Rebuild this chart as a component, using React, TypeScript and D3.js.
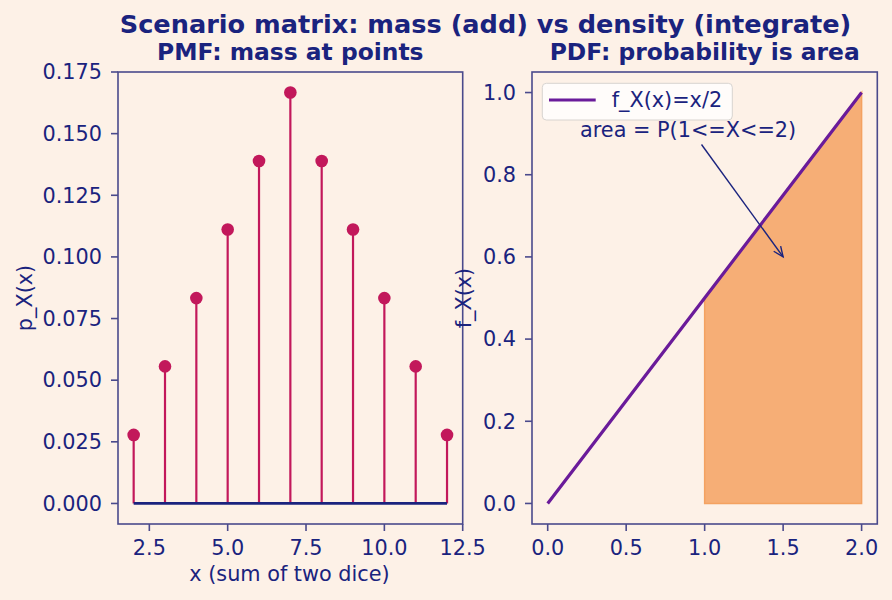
import React from "react";
import * as d3 from "d3";

// PMF of the sum of two dice
const diceSums = [2, 3, 4, 5, 6, 7, 8, 9, 10, 11, 12];
const pmfValues = [0.0278, 0.0556, 0.0833, 0.1111, 0.1389, 0.1667, 0.1389, 0.1111, 0.0833, 0.0556, 0.0278];
const pmfYTicks = [0, 0.025, 0.05, 0.075, 0.1, 0.125, 0.15, 0.175];
const pmfXTicks = [2.5, 5.0, 7.5, 10.0, 12.5];

// PDF f_X(x) = x/2 on [0, 2]
const pdfX = [0, 0.5, 1.0, 1.5, 2.0];
const pdfY = [0, 0.25, 0.5, 0.75, 1.0];
const shadeX = [1.0, 1.5, 2.0];
const shadeY = [0.5, 0.75, 1.0];
const pdfXTicks = [0, 0.5, 1.0, 1.5, 2.0];
const pdfYTicks = [0, 0.2, 0.4, 0.6, 0.8, 1.0];

const BG = "#fdf1e7";
const TEXT = "#1a237e";
const SPINE = "#4a4a8c";
const STEM = "#c2185b";
const LINE = "#6a1b9a";
const FILL = "#f4a261";
const FONT = "DejaVu Sans";
const FS = 20.8;

const top = 72;
const bottom = 524;

const Frame = (props) => {
  const { x, y, xTicks, yTicks, xFmt, yFmt } = props;
  const [x0, x1] = x.range();
  return (
    <g fontFamily={FONT} fontSize={FS} fill={TEXT}>
      <rect x={x0} y={top} width={x1 - x0} height={bottom - top} fill="none" stroke={SPINE} strokeWidth={1.6} />
      {yTicks.map((t, i) => (
        <g key={i} transform={`translate(0,${y(t)})`}>
          <line x1={x0 - 7} x2={x0} y1={0} y2={0} stroke={SPINE} strokeWidth={1.6} />
          <text x={x0 - 16} dy="0.35em" textAnchor="end">
            {yFmt(t)}
          </text>
        </g>
      ))}
      {xTicks.map((t, i) => (
        <g key={i} transform={`translate(${x(t)},0)`}>
          <line x1={0} x2={0} y1={bottom} y2={bottom + 7} stroke={SPINE} strokeWidth={1.6} />
          <text y={bottom + 31} textAnchor="middle">
            {xFmt(t)}
          </text>
        </g>
      ))}
    </g>
  );
};

export default function App() {
  const xL = d3.scaleLinear().domain([1.5, 12.5]).range([118, 462.7]);
  const yL = d3.scaleLinear().domain([-0.00833, 0.175]).range([bottom, top]);
  const xR = d3.scaleLinear().domain([-0.1, 2.1]).range([532, 877.3]);
  const yR = d3.scaleLinear().domain([-0.05, 1.05]).range([bottom, top]);

  const line = d3
    .line<number>()
    .x((d) => xR(d))
    .y((_, i) => yR(pdfY[i]));
  const area = d3
    .area<number>()
    .x((d) => xR(d))
    .y0(yR(0))
    .y1((_, i) => yR(shadeY[i]));

  const tip = [xR(1.5), yR(0.6)];
  const tail = [701.5, 144.5];
  const ang = Math.atan2(tip[1] - tail[1], tip[0] - tail[0]);
  const head = (s) => [tip[0] - 11 * Math.cos(ang + s * 0.4), tip[1] - 11 * Math.sin(ang + s * 0.4)];
  const h1 = head(1);
  const h2 = head(-1);

  return (
    <svg width={892} height={600} style={{ position: "absolute", left: 0, top: 0, background: BG }}>
      <rect width={892} height={600} fill={BG} />
      <text x={485.5} y={33} textAnchor="middle" fontFamily={FONT} fontWeight="bold" fontSize={25.6} fill={TEXT}>
        Scenario matrix: mass (add) vs density (integrate)
      </text>

      {/* PMF */}
      <text x={290.3} y={60} textAnchor="middle" fontFamily={FONT} fontWeight="bold" fontSize={23.4} fill={TEXT}>
        PMF: mass at points
      </text>
      <Frame x={xL} y={yL} xTicks={pmfXTicks} yTicks={pmfYTicks} xFmt={d3.format(".1f")} yFmt={d3.format(".3f")} />
      {diceSums.map((s, i) => (
        <line key={i} x1={xL(s)} x2={xL(s)} y1={yL(0)} y2={yL(pmfValues[i])} stroke={STEM} strokeWidth={2.2} />
      ))}
      <line x1={xL(2)} x2={xL(12)} y1={yL(0)} y2={yL(0)} stroke={TEXT} strokeWidth={2.8} />
      {diceSums.map((s, i) => (
        <circle key={i} cx={xL(s)} cy={yL(pmfValues[i])} r={6.3} fill={STEM} />
      ))}
      <text x={289.5} y={581} textAnchor="middle" fontFamily={FONT} fontSize={FS} fill={TEXT}>
        x (sum of two dice)
      </text>
      <text transform={`translate(32,${(top + bottom) / 2}) rotate(-90)`} textAnchor="middle" fontFamily={FONT} fontSize={FS} fill={TEXT}>
        p_X(x)
      </text>

      {/* PDF */}
      <text x={704.7} y={60} textAnchor="middle" fontFamily={FONT} fontWeight="bold" fontSize={23.4} fill={TEXT}>
        PDF: probability is area
      </text>
      <Frame x={xR} y={yR} xTicks={pdfXTicks} yTicks={pdfYTicks} xFmt={d3.format(".1f")} yFmt={d3.format(".1f")} />
      <path d={area(shadeX) || ""} fill={FILL} fillOpacity={0.85} stroke={FILL} strokeWidth={1.5} />
      <path d={line(pdfX) || ""} fill="none" stroke={LINE} strokeWidth={3.2} />
      <text x={xR(0.206)} y={yR(0.893)} fontFamily={FONT} fontSize={FS} fill={TEXT}>
        {"area = P(1<=X<=2)"}
      </text>
      <g stroke={TEXT} strokeWidth={1.4} fill="none">
        <line x1={tail[0]} y1={tail[1]} x2={tip[0]} y2={tip[1]} />
        <polyline points={`${h1[0]},${h1[1]} ${tip[0]},${tip[1]} ${h2[0]},${h2[1]}`} />
      </g>
      <g>
        <rect x={542.3} y={83.3} width={190} height={36.7} rx={4} fill="#ffffff" fillOpacity={0.8} stroke="#d8d4d0" strokeWidth={1} />
        <line x1={549} x2={595.7} y1={100} y2={100} stroke={LINE} strokeWidth={3.2} />
        <text x={611.7} y={107} fontFamily={FONT} fontSize={FS} fill={TEXT}>
          f_X(x)=x/2
        </text>
      </g>
      <text x={xR(-0.1) - 532 + 471} y={0} transform={`translate(0,${(top + bottom) / 2}) rotate(-90, ${471}, 0)`} textAnchor="middle" fontFamily={FONT} fontSize={FS} fill={TEXT}>
        f_X(x)
      </text>
    </svg>
  );
}
